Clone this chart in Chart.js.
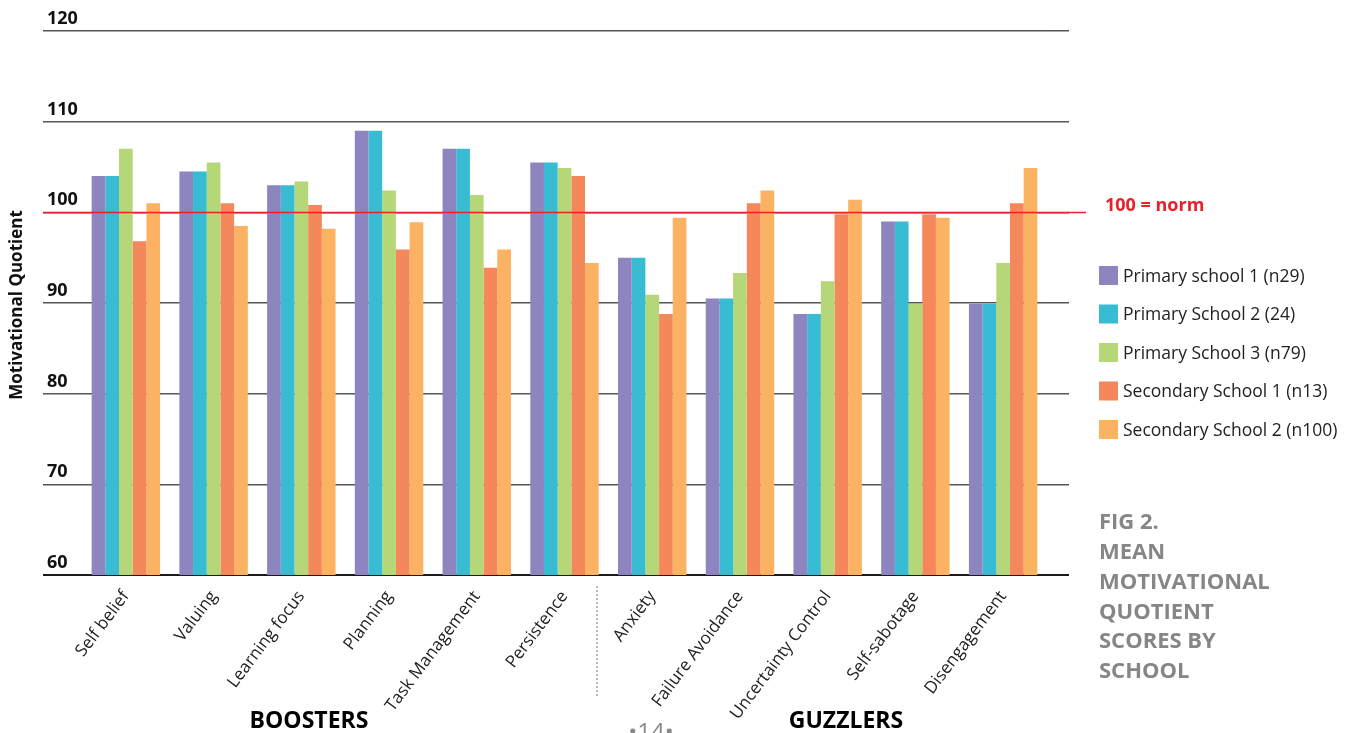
<!DOCTYPE html>
<html>
<head>
<meta charset="utf-8">
<title>Mean Motivational Quotient scores by school</title>
<script src="https://cdn.jsdelivr.net/npm/chart.js@4.4.1/dist/chart.umd.min.js"></script>
<style>
  html, body { margin: 0; padding: 0; background: #fff; }
  #wrap { width: 1352px; height: 733px; }
</style>
</head>
<body>
<div id="wrap"><canvas id="mq-chart" width="1352" height="733"></canvas></div>
<script>
// categories and values
const categories = ['Self belief', 'Valuing', 'Learning focus', 'Planning', 'Task Management', 'Persistence',
  'Anxiety', 'Failure Avoidance', 'Uncertainty Control', 'Self-sabotage', 'Disengagement'];
const seriesNames = ['Primary school 1 (n29)', 'Primary School 2 (24)', 'Primary School 3 (n79)',
  'Secondary School 1 (n13)', 'Secondary School 2 (n100)'];
const primary1 = [104, 104.5, 103, 109, 107, 105.5, 95, 90.5, 88.8, 99, 89.9];
const primary2 = [104, 104.5, 103, 109, 107, 105.5, 95, 90.5, 88.8, 99, 89.9];
const primary3 = [107, 105.5, 103.4, 102.4, 101.9, 104.9, 90.9, 93.3, 92.4, 89.9, 94.4];
const secondary1 = [96.8, 101, 100.8, 95.9, 93.9, 104, 88.8, 101, 99.8, 99.8, 101];
const secondary2 = [101, 98.5, 98.2, 98.9, 95.9, 94.4, 99.4, 102.4, 101.4, 99.4, 104.9];
const yTicks = [60, 70, 80, 90, 100, 110, 120];
const normValue = 100;
const captionLines = ['FIG 2.', 'MEAN', 'MOTIVATIONAL', 'QUOTIENT', 'SCORES BY', 'SCHOOL'];

const colors = ['#8c85bf', '#37bcd4', '#b5d778', '#f5885b', '#fbb263'];
const allSeries = [primary1, primary2, primary3, secondary1, secondary2];

Chart.defaults.font.family = "'Open Sans', sans-serif";

// red norm line, legend, captions and group labels
const extras = {
  id: 'extras',
  afterDatasetsDraw(chart) {
    const ctx = chart.ctx;
    const y = chart.scales.y;
    const x = chart.scales.x;
    const ny = Math.round(y.getPixelForValue(normValue)) + 0.5;
    ctx.save();
    ctx.strokeStyle = '#e8212b';
    ctx.lineWidth = 1.5;
    ctx.beginPath();
    ctx.moveTo(43, ny);
    ctx.lineTo(1086, ny);
    ctx.stroke();

    ctx.fillStyle = '#e8212b';
    ctx.font = "bold 18px 'Open Sans'";
    ctx.textBaseline = 'middle';
    ctx.textAlign = 'left';
    ctx.fillText('100 = norm', 1105, ny - 7);

    // dotted divider between boosters and guzzlers
    const dx = Math.round((x.getPixelForTick(5) + x.getPixelForTick(6)) / 2) - 12;
    ctx.fillStyle = '#b8b8b8';
    for (let yy = 586; yy < 698; yy += 4) {
      ctx.fillRect(dx, yy, 2, 2);
    }

    // y title
    ctx.save();
    ctx.translate(17, 305);
    ctx.rotate(-Math.PI / 2);
    ctx.fillStyle = '#111';
    ctx.font = "bold 17px 'Open Sans'";
    ctx.textAlign = 'center';
    ctx.fillText('Motivational Quotient', 0, 0);
    ctx.restore();

    // legend
    chart.data.datasets.forEach((ds, i) => {
      const top = 266 + i * 38.5;
      ctx.fillStyle = ds.backgroundColor;
      ctx.fillRect(1099, top, 19, 19);
      ctx.fillStyle = '#222';
      ctx.font = "17.5px 'Open Sans'";
      ctx.textAlign = 'left';
      ctx.fillText(ds.label, 1123, top + 11);
    });

    // caption
    ctx.fillStyle = '#868686';
    ctx.font = "bold 22px 'Open Sans'";
    captionLines.forEach((t, i) => ctx.fillText(t, 1099, 523 + i * 29.8));

    // group labels
    ctx.fillStyle = '#000';
    ctx.font = "bold 23px 'Open Sans'";
    ctx.textAlign = 'center';
    ctx.fillText('BOOSTERS', 309, 721);
    ctx.fillText('GUZZLERS', 846, 721);

    // page number
    ctx.fillStyle = '#8a8a8a';
    ctx.font = "24px 'Open Sans'";
    ctx.textBaseline = 'alphabetic';
    ctx.fillText('\u202214\u2022', 651, 740);
    ctx.restore();
  }
};

new Chart(document.getElementById('mq-chart'), {
  type: 'bar',
  data: {
    labels: categories,
    datasets: allSeries.map((d, i) => ({
      label: seriesNames[i],
      data: d,
      backgroundColor: colors[i],
      borderWidth: 0,
      categoryPercentage: 0.78,
      barPercentage: 1
    }))
  },
  options: {
    responsive: false,
    animation: false,
    devicePixelRatio: 1,
    layout: { padding: { left: 47, right: 283, top: 31, bottom: 0 } },
    plugins: {
      legend: { display: false },
      tooltip: { enabled: false }
    },
    scales: {
      x: {
        grid: { display: false },
        border: { display: false },
        ticks: {
          minRotation: 53,
          maxRotation: 53,
          padding: 4,
          color: '#222',
          font: { size: 17 }
        },
        afterFit(scale) { scale.height = 158; }
      },
      y: {
        min: 60,
        max: 120,
        afterBuildTicks(scale) { scale.ticks = yTicks.map(v => ({ value: v })); },
        border: { display: false },
        grid: {
          color: ctx => ctx.tick && ctx.tick.value === 60 ? '#1a1a1a' : '#555',
          lineWidth: ctx => ctx.tick && ctx.tick.value === 60 ? 2 : 1.5,
          tickLength: 39,
          tickColor: ctx => ctx.tick && ctx.tick.value === 60 ? '#1a1a1a' : '#555'
        },
        ticks: {
          crossAlign: 'far',
          labelOffset: -12,
          color: '#111',
          font: { size: 18, weight: 'bold' }
        },
        afterFit(scale) { scale.width = 35; }
      },
      y2: {
        position: 'right',
        min: 60,
        max: 120,
        afterBuildTicks(scale) { scale.ticks = yTicks.map(v => ({ value: v })); },
        border: { display: false },
        grid: {
          drawOnChartArea: false,
          tickLength: 22,
          color: ctx => ctx.tick && ctx.tick.value === 60 ? '#1a1a1a' : '#555',
          lineWidth: ctx => ctx.tick && ctx.tick.value === 60 ? 2 : 1.5
        },
        ticks: { display: false },
        afterFit(scale) { scale.width = 22; }
      }
    }
  },
  plugins: [extras]
});
</script>
</body>
</html>
